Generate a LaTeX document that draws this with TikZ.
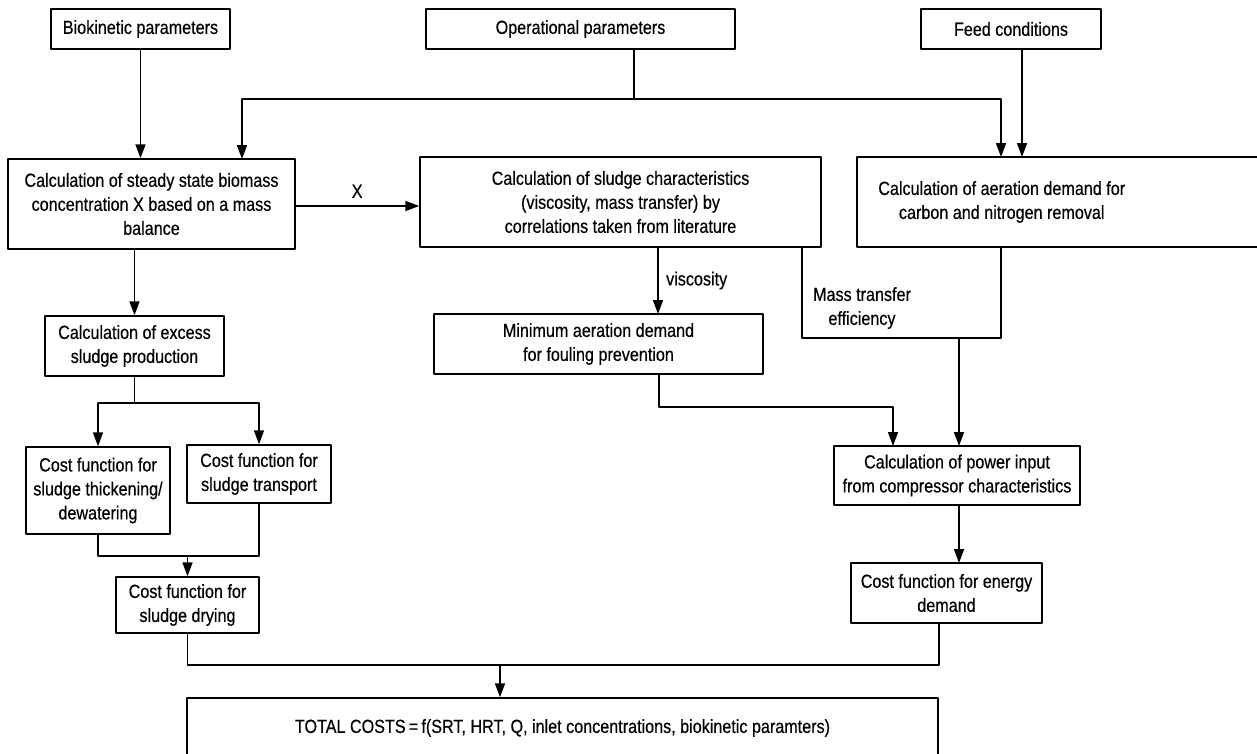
\documentclass[tikz,border=0pt]{standalone}
\usepackage{fontspec}
\setmainfont{Liberation Sans}[FakeStretch=0.85, FakeBold=0.4]
\usetikzlibrary{arrows.meta}
\tikzset{
  frame/.style={draw, line width=1.5pt, inner sep=0pt},
  box/.style={frame, align=center},
  line/.style={line width=1.7pt},
  arr/.style={line width=1.7pt, -{Triangle[length=14pt,width=10pt]}}
}
\begin{document}
\begin{tikzpicture}[x=1pt, y=-1pt, line cap=round, line join=round, font=\fontsize{19}{24}\selectfont]
\useasboundingbox (0,0) rectangle (1257,753);
% inputs
\node[box, minimum width=179pt, minimum height=40pt] (bio) at (140.5,29) {Biokinetic parameters};
\node[box, minimum width=309pt, minimum height=40pt] (oper) at (580.5,29) {Operational parameters};
\node[box, minimum width=180pt, minimum height=40pt] (feed) at (1011,29) {Feed conditions};
% calculations
\node[box, minimum width=287pt, minimum height=90pt] (steady) at (151.5,204) {Calculation of steady state biomass\\concentration X based on a mass\\balance};
\node[box, minimum width=401pt, minimum height=90pt] (sludge) at (620.5,202) {Calculation of sludge characteristics\\(viscosity, mass transfer) by\\correlations taken from literature};
\node[frame, anchor=west, minimum height=90pt] (aer) at (856,202) {\parbox{290pt}{\centering Calculation of aeration demand for\\carbon and nitrogen removal}\kern119pt};
\node[box, minimum width=179pt, minimum height=60pt] (excess) at (134.5,346) {Calculation of excess\\sludge production};
\node[box, minimum width=329pt, minimum height=60pt] (mini) at (598.5,344) {Minimum aeration demand\\for fouling prevention};
\node[box, minimum width=144pt, minimum height=87pt] (thick) at (98,490.5) {Cost function for\\sludge thickening/\\dewatering};
\node[box, minimum width=144pt, minimum height=58pt] (trans) at (259,474) {Cost function for\\sludge transport};
\node[box, minimum width=143pt, minimum height=56pt] (dry) at (187.5,605) {Cost function for\\sludge drying};
\node[box, minimum width=246pt, minimum height=59pt] (power) at (957,475.5) {Calculation of power input\\from compressor characteristics};
\node[box, minimum width=191pt, minimum height=60pt] (energy) at (946.5,593) {Cost function for energy\\demand};
\node[box, minimum width=751pt, minimum height=60pt] (total) at (562.5,728) {TOTAL COSTS\,=\,f(SRT, HRT, Q, inlet concentrations, biokinetic paramters)};
% junctions
\coordinate (opj) at (634,99);
\coordinate (exj) at (134.5,403);
\coordinate (thj) at (98,556);
\coordinate (trj) at (259,556);
\coordinate (mij) at (659,407);
\coordinate (msj) at (802,338);
\coordinate (aej) at (1001,338);
\coordinate (enj) at (939,665);
\coordinate (drj) at (187.5,665);
% connectors
\draw[arr] (bio) -- (bio |- steady.north);
\draw[line] (opj |- oper.south) -- (opj);
\draw[arr] (opj) -- (242,99) -- (242,159);
\draw[arr] (opj) -- (1001,99) -- (1001,157);
\draw[arr] (1022,49) -- (1022,157);
\draw[arr] (295,206) -- node[above=4pt]{X} (sludge.west |- 0,206);
\draw[arr] (steady.south -| excess) -- (excess.north);
\draw[line] (excess.south) -- (exj);
\draw[arr] (exj) -- (thick.north |- exj) -- (thick.north);
\draw[arr] (exj) -- (trans.north |- exj) -- (trans.north);
\draw[line] (thick.south) -- (thj) -- (trj) -- (trans.south);
\draw[arr] (dry.north |- thj) -- (dry.north);
\draw[arr] (658,247) -- node[right=4pt]{viscosity} (658,314);
\draw[arr] (mij |- mini.south) -- (mij) -- (893,407) -- (893,446);
\draw[line] (msj |- sludge.south) -- (msj) -- (aej) -- (aej |- aer.south);
\draw[arr] (959,338) -- (959,446);
\draw[arr] (959,505) -- (959,563);
\node[align=center] (mtlbl) at (862,308) {Mass transfer\\efficiency};
\draw[line] (enj |- energy.south) -- (enj) -- (drj) -- (dry.south);
\draw[arr] (500,665) -- (total.north -| 500,0);
\end{tikzpicture}
\end{document}
